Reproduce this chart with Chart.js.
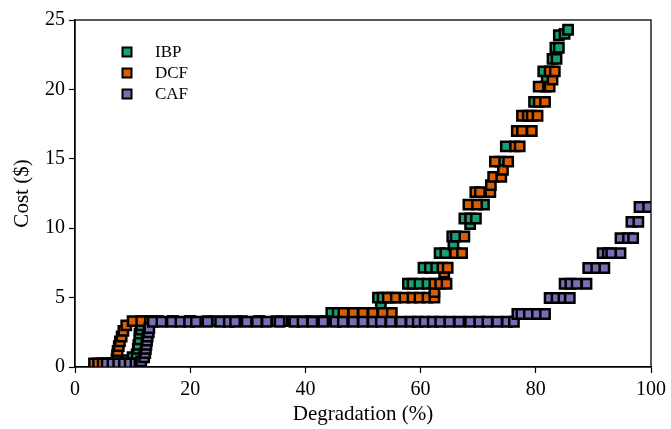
<!DOCTYPE html>
<html lang="en">
<head>
    <meta charset="UTF-8">
    <title>Cost vs Degradation</title>
    <script src="https://cdn.jsdelivr.net/npm/chart.js@4.4.1/dist/chart.umd.min.js"></script>
    <style>
        html, body { margin: 0; padding: 0; background: #fff; }
        #wrap { width: 671px; height: 429px; }
    </style>
</head>
<body>
<div id="wrap"><canvas id="myChart" width="671" height="429"></canvas></div>
<script>
    // series labels and colours
    var seriesNames = ['IBP', 'DCF', 'CAF'];
    var seriesColors = ['#1b9e77', '#d95f02', '#7570b3'];

    // axis ticks
    var xTicks = [0, 20, 40, 60, 80, 100];
    var yTicks = [0, 5, 10, 15, 20, 25];

    // IBP: degradation (%) and cost ($)
    var ibpDeg = [5.0, 6.5, 8.0,
        9.1, 10.0, 10.7, 10.9, 11.0, 11.2, 11.2, 11.4, 11.5,
        12, 14, 17, 20, 24, 28, 32, 36, 40, 43,
        44.5, 45.6, 47.5, 50, 52.2, 53.1,
        52.6, 53.4, 55.0,
        57.8, 58.6, 59.8, 61.2,
        60.5, 61.6, 62.7,
        63.3, 64.3, 65.7, 65.5, 66.1,
        68.6, 67.6, 68.6, 69.6,
        71.0, 73.8, 74.8, 79.7,
        81.7, 81.9, 81.3,
        82.9, 83.6, 83.4, 84.0,
        84.0, 85.0, 85.6];
    var ibpCost = [0.25, 0.25, 0.25,
        0.5, 0.7, 0.9, 1.3, 1.6, 2.0, 2.4, 2.7, 3.0,
        3.3, 3.3, 3.3, 3.3, 3.3, 3.3, 3.3, 3.3, 3.3, 3.3,
        3.9, 3.9, 3.9, 3.9, 3.9, 4.4,
        5.0, 5.0, 5.0,
        6.0, 6.0, 6.0, 6.0,
        7.15, 7.15, 7.15,
        8.2, 8.2, 8.8, 9.4, 9.4,
        10.3, 10.7, 10.7, 10.7,
        11.7, 14.8, 15.9, 19.1,
        20.2, 20.7, 21.3,
        22.2, 22.2, 23.0, 23.0,
        23.9, 24.0, 24.3];

    // DCF
    var dcfDeg = [3.3, 4.0, 4.8, 5.8, 6.7,
        7.2, 7.3, 7.4, 7.6, 7.8, 8.1, 8.4, 8.9,
        10.0, 11.5, 13, 14.5, 17, 20, 23, 26, 29, 32, 35, 38, 41, 43.5,
        46.6, 48.3, 50.0, 51.7, 53.4, 55.0,
        54.3, 55.7, 57.2, 58.6, 59.8, 61.2, 62.4, 62.4,
        62.4, 63.4, 64.5, 64.1,
        63.8, 64.7,
        66.0, 67.2, 67.6,
        68.3, 69.8,
        69.5, 70.3, 72.1, 72.2,
        72.6, 74.0, 74.3,
        72.9, 75.2,
        76.4, 77.2,
        76.7, 77.6, 79.3,
        77.6, 78.6, 79.3, 80.3,
        80.5, 81.6,
        80.5, 82.4, 82.9,
        82.4, 83.3];
    var dcfCost = [0.25, 0.25, 0.25, 0.25, 0.25,
        0.55, 0.85, 1.15, 1.5, 1.85, 2.2, 2.6, 3.0,
        3.3, 3.3, 3.3, 3.3, 3.3, 3.3, 3.3, 3.3, 3.3, 3.3, 3.3, 3.3, 3.3, 3.3,
        3.9, 3.9, 3.9, 3.9, 3.9, 3.9,
        5.0, 5.0, 5.0, 5.0, 5.0, 5.0, 5.0, 5.4,
        6.0, 6.0, 6.0, 6.8,
        7.15, 7.15,
        8.2, 8.2, 9.4,
        11.7, 11.7,
        12.6, 12.6, 12.6, 13.1,
        13.7, 13.7, 14.2,
        14.8, 14.8,
        15.9, 15.9,
        17.0, 17.0, 17.0,
        18.1, 18.1, 18.1, 18.1,
        19.1, 19.1,
        20.2, 20.2, 20.7,
        21.3, 21.3];

    // CAF
    var cafDeg = [5.5, 6.5, 7.5, 8.5, 9.5, 10.5, 11.2,
        11.5, 12.0, 12.2, 12.3, 12.4, 12.5, 12.6, 12.8, 12.9,
        13.5, 15, 16.8, 18.3, 19.8, 21, 23, 25.2, 26.7, 27.8, 29.8, 31.6, 33.3,
        35.5, 38.1, 39.5, 41.2, 43.1, 45.2, 46.5, 48.3, 50, 51.7, 53.1, 54.8,
        56.6, 58.3, 59.5, 60.7, 62.1, 63.4, 65, 66.7, 68.6, 70.2, 71.6, 73.3, 75, 76.2,
        76.8, 77.5, 78.8, 80.2, 81.6,
        82.4, 83.6, 84.8, 85.9,
        85.0, 86.0, 87.1, 88.8,
        89.1, 90.5, 91.9,
        91.6, 92.5, 93.1, 94.7,
        94.7, 96.0, 96.9,
        96.6, 97.8,
        98.0, 99.5];
    var cafCost = [0.25, 0.25, 0.25, 0.25, 0.25, 0.25, 0.25,
        0.4, 0.7, 1.0, 1.3, 1.6, 1.9, 2.2, 2.5, 2.8,
        3.26, 3.26, 3.26, 3.26, 3.26, 3.26, 3.26, 3.26, 3.26, 3.26, 3.26, 3.26, 3.26,
        3.26, 3.26, 3.26, 3.26, 3.26, 3.26, 3.26, 3.26, 3.26, 3.26, 3.26, 3.26,
        3.26, 3.26, 3.26, 3.26, 3.26, 3.26, 3.26, 3.26, 3.26, 3.26, 3.26, 3.26, 3.26, 3.26,
        3.82, 3.82, 3.82, 3.82, 3.82,
        4.97, 4.97, 4.97, 4.97,
        6.0, 6.0, 6.0, 6.0,
        7.13, 7.13, 7.13,
        8.21, 8.21, 8.21, 8.21,
        9.29, 9.29, 9.29,
        10.45, 10.45,
        11.53, 11.53];

    var FONT = "'Liberation Serif', 'Times New Roman', serif";

    function toPoints(xs, ys) {
        var pts = [];
        for (var i = 0; i < xs.length; i++) {
            pts.push({ x: xs[i], y: ys[i] });
        }
        return pts;
    }

    var allDeg = [ibpDeg, dcfDeg, cafDeg];
    var allCost = [ibpCost, dcfCost, cafCost];

    var datasets = [];
    for (var s = 0; s < seriesNames.length; s++) {
        datasets.push({
            label: seriesNames[s],
            data: toPoints(allDeg[s], allCost[s]),
            backgroundColor: seriesColors[s],
            borderColor: '#000',
            borderWidth: 2.5,
            pointStyle: 'rect',
            pointRadius: 6.6,
            pointHoverRadius: 6.6,
            order: seriesNames.length - s   // later series drawn on top
        });
    }

    // box around plot + legend in the upper left corner
    var boxAndLegend = {
        id: 'boxAndLegend',
        afterDraw: function(chart) {
            var ctx = chart.ctx, a = chart.chartArea;
            ctx.save();
            ctx.strokeStyle = '#000';
            ctx.lineWidth = 1.3;
            ctx.strokeRect(a.left, a.top, a.right - a.left, a.bottom - a.top);

            var lx = a.left + 52, ly = a.top + 32, step = 21;
            ctx.font = '17px ' + FONT;
            ctx.textBaseline = 'middle';
            ctx.textAlign = 'left';
            chart.data.datasets.forEach(function(ds, i) {
                var y = ly + i * step;
                ctx.fillStyle = ds.backgroundColor;
                ctx.fillRect(lx - 4.5, y - 4.5, 9, 9);
                ctx.lineWidth = 2;
                ctx.strokeStyle = '#000';
                ctx.strokeRect(lx - 4.5, y - 4.5, 9, 9);
                ctx.fillStyle = '#000';
                ctx.fillText(ds.label, lx + 28, y + 1);
            });
            ctx.restore();
        }
    };

    var ctx = document.getElementById('myChart').getContext('2d');
    var chart = new Chart(ctx, {
        type: 'scatter',
        data: { datasets: datasets },
        options: {
            responsive: false,
            animation: false,
            devicePixelRatio: 1,
            layout: { padding: { top: 20, right: 16, left: 0, bottom: 0 } },
            plugins: {
                legend: { display: false },
                tooltip: { enabled: false }
            },
            scales: {
                x: {
                    type: 'linear',
                    min: 0,
                    max: 100,
                    afterBuildTicks: function(scale) {
                        scale.ticks = xTicks.map(function(v) { return { value: v }; });
                    },
                    afterFit: function(scale) { scale.height = 62; },
                    ticks: {
                        color: '#000',
                        padding: 5,
                        maxRotation: 0,
                        font: { family: FONT, size: 20 }
                    },
                    grid: { drawOnChartArea: false, drawTicks: true, tickLength: 6, tickColor: '#000', tickWidth: 1.2 },
                    border: { display: true, color: '#000', width: 1.3 },
                    title: {
                        display: true,
                        text: 'Degradation (%)',
                        color: '#000',
                        font: { family: FONT, size: 21 },
                        padding: { top: 0, bottom: 2 }
                    }
                },
                y: {
                    type: 'linear',
                    min: 0,
                    max: 25,
                    afterBuildTicks: function(scale) {
                        scale.ticks = yTicks.map(function(v) { return { value: v }; });
                    },
                    afterFit: function(scale) { scale.width = 75; },
                    ticks: {
                        color: '#000',
                        padding: 4,
                        font: { family: FONT, size: 20 }
                    },
                    grid: { drawOnChartArea: false, drawTicks: true, tickLength: 6, tickColor: '#000', tickWidth: 1.2 },
                    border: { display: true, color: '#000', width: 1.3 },
                    title: {
                        display: true,
                        text: 'Cost ($)',
                        color: '#000',
                        font: { family: FONT, size: 21 },
                        padding: { top: 10, bottom: 0 }
                    }
                }
            }
        },
        plugins: [boxAndLegend]
    });
</script>
</body>
</html>
